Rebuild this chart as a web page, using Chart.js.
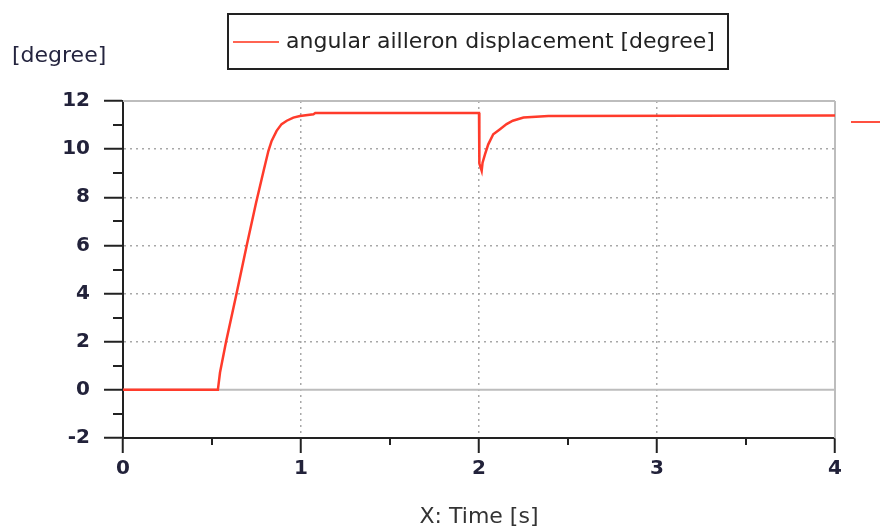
<!DOCTYPE html>
<html>
<head>
<meta charset="utf-8">
<script src="https://cdn.jsdelivr.net/npm/chart.js@4"></script>
<style>
  body { margin: 0; background: #fff; }
  #wrap { position: relative; width: 880px; height: 530px; font-family: "DejaVu Sans", sans-serif; }
  #legend {
    position: absolute; left: 227px; top: 13px; width: 498px; height: 53px;
    border: 2px solid #222; background: #fff;
  }
  #legend .swatch { position: absolute; left: 4px; top: 26px; width: 46px; height: 2px; background: #ff6452; }
  #legend .label { position: absolute; left: 57px; top: 13px; font-size: 22px; line-height: 26px; color: #222; white-space: nowrap; }
  #unit { position: absolute; left: 12px; top: 42px; font-size: 22px; line-height: 26px; color: #25253f; }
</style>
</head>
<body>
<div id="wrap">
  <canvas id="chart" width="880" height="530"></canvas>
  <div id="unit">[degree]</div>
  <div id="legend"><span class="swatch"></span><span class="label">angular ailleron displacement [degree]</span></div>
</div>
<script>
// simulation output: aileron angle vs time
const timeS = [0, 0.533, 0.545, 0.579, 0.638, 0.695, 0.747, 0.79, 0.817,
  0.835, 0.863, 0.891, 0.92, 0.957, 0.994, 1.07, 1.08,
  2.0, 2.002, 2.015, 2.02, 2.034, 2.052, 2.08, 2.118, 2.155, 2.19, 2.25, 2.39, 4.0];
const angleDeg = [0, 0, 0.72, 2.0, 4.0, 6.0, 7.75, 9.1, 9.93,
  10.34, 10.76, 11.04, 11.18, 11.31, 11.38, 11.45, 11.5,
  11.5, 9.4, 9.1, 9.44, 9.79, 10.2, 10.62, 10.83, 11.04, 11.18, 11.31, 11.38, 11.4];
const xTicks = [0, 1, 2, 3, 4];
const yTicks = [-2, 0, 2, 4, 6, 8, 10, 12];
const xMinor = [0.5, 1.5, 2.5, 3.5];
const yMinor = [-1, 1, 3, 5, 7, 9, 11];

const points = timeS.map((t, i) => ({ x: t, y: angleDeg[i] }));

const tickFont = { family: 'DejaVu Sans', size: 20, weight: 'bold' };
const AXIS = '#222';
const FRAME = '#bdbdbd';

// solid frame lines (top, right, zero line) and minor tick marks
const frameLines = {
  id: 'frameLines',
  beforeDatasetsDraw(chart) {
    const { ctx, chartArea: a, scales: { y } } = chart;
    ctx.save();
    ctx.strokeStyle = FRAME;
    ctx.lineWidth = 2;
    ctx.beginPath();
    const y0 = y.getPixelForValue(0);
    ctx.moveTo(a.left, y0); ctx.lineTo(a.right, y0);
    ctx.moveTo(a.left, a.top); ctx.lineTo(a.right, a.top);
    ctx.moveTo(a.right, a.top); ctx.lineTo(a.right, a.bottom);
    ctx.stroke();
    ctx.restore();
  },
  afterDraw(chart) {
    const { ctx, chartArea: a, scales: { x, y } } = chart;
    ctx.save();
    ctx.strokeStyle = AXIS;
    ctx.lineWidth = 2;
    ctx.beginPath();
    yMinor.forEach(v => {
      const py = Math.round(y.getPixelForValue(v));
      ctx.moveTo(a.left - 10, py); ctx.lineTo(a.left, py);
    });
    xMinor.forEach(v => {
      const px = Math.round(x.getPixelForValue(v));
      ctx.moveTo(px, a.bottom); ctx.lineTo(px, a.bottom + 7);
    });
    ctx.stroke();
    // stray legend swatch at the right edge
    ctx.strokeStyle = '#ff5040';
    ctx.beginPath();
    ctx.moveTo(851, 122); ctx.lineTo(880, 122);
    ctx.stroke();
    ctx.restore();
  }
};

new Chart(document.getElementById('chart'), {
  type: 'line',
  data: {
    datasets: [{
      label: 'angular ailleron displacement [degree]',
      data: points,
      borderColor: '#ff3b2b',
      borderWidth: 2.5,
      pointRadius: 0,
      tension: 0
    }]
  },
  options: {
    responsive: false,
    devicePixelRatio: 1,
    animation: false,
    layout: { padding: { top: 101, right: 45, left: 0, bottom: 0 } },
    plugins: { legend: { display: false }, tooltip: { enabled: false } },
    scales: {
      x: {
        type: 'linear',
        min: 0,
        max: 4,
        afterBuildTicks: s => { s.ticks = xTicks.map(v => ({ value: v })); },
        afterFit: s => { s.height = 92; },
        ticks: { font: tickFont, color: '#22223a', padding: 4 },
        grid: {
          color: c => (c.tick && (c.tick.value === 0 || c.tick.value === 4)) ? 'rgba(0,0,0,0)' : '#a8a8a8',
          lineWidth: 1.5,
          tickColor: AXIS,
          tickWidth: 2,
          tickLength: 15
        },
        border: { color: AXIS, width: 2, dash: [2, 4] },
        title: {
          display: true,
          text: 'X: Time [s]',
          color: '#333',
          font: { family: 'DejaVu Sans', size: 22 },
          padding: { top: 0, bottom: 0 }
        }
      },
      y: {
        min: -2,
        max: 12,
        afterBuildTicks: s => { s.ticks = yTicks.map(v => ({ value: v })); },
        afterFit: s => { s.width = 123; },
        ticks: { font: tickFont, color: '#22223a', padding: 14 },
        grid: {
          color: c => (c.tick && (c.tick.value === 0 || c.tick.value === 12 || c.tick.value === -2)) ? 'rgba(0,0,0,0)' : '#a8a8a8',
          lineWidth: 1.5,
          tickColor: AXIS,
          tickWidth: 2,
          tickLength: 19
        },
        border: { color: AXIS, width: 2, dash: [2, 4] }
      }
    }
  },
  plugins: [frameLines]
});
</script>
</body>
</html>
